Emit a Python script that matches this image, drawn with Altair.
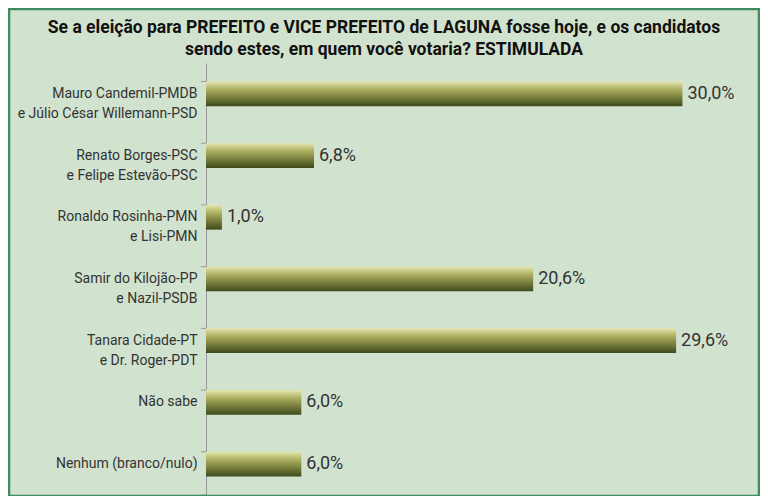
import altair as alt
import pandas as pd

categories = [
    "Mauro Candemil-PMDB|e Júlio César Willemann-PSD",
    "Renato Borges-PSC|e Felipe Estevão-PSC",
    "Ronaldo Rosinha-PMN|e Lisi-PMN",
    "Samir do Kilojão-PP|e Nazil-PSDB",
    "Tanara Cidade-PT|e Dr. Roger-PDT",
    "Não sabe",
    "Nenhum (branco/nulo)",
]
values = [30.0, 6.8, 1.0, 20.6, 29.6, 6.0, 6.0]
value_labels = [f"{v:.1f}".replace(".", ",") + "%" for v in values]

title_lines = [
    "Se a eleição para PREFEITO e VICE PREFEITO de LAGUNA fosse hoje, e os candidatos",
    "sendo estes, em quem você votaria? ESTIMULADA",
]

df = pd.DataFrame({"cat": categories, "v": values, "lbl": value_labels})

FONT = "Roboto, Liberation Sans, sans-serif"
W, H = 540, 432

y_enc = alt.Y(
    "cat:N",
    sort=categories,
    scale=alt.Scale(paddingInner=0.6, paddingOuter=0.3),
    axis=alt.Axis(
        title=None,
        ticks=False,
        labelExpr="split(datum.label, '|')",
        labelFont=FONT,
        labelFontSize=14,
        labelColor="#333333",
        labelLineHeight=20,
        labelPadding=9,
        labelBaseline="middle",
        domainColor="#9a9a9a",
        domainWidth=1,
        labelLimit=300,
    ),
)

x_enc = alt.X("v:Q", scale=alt.Scale(domain=[0, 34]), axis=None)

grad = alt.Gradient(
    gradient="linear",
    stops=[
        alt.GradientStop(color="#e4e6b0", offset=0),
        alt.GradientStop(color="#b0b264", offset=0.3),
        alt.GradientStop(color="#6f7636", offset=0.7),
        alt.GradientStop(color="#3e4a1b", offset=1),
    ],
    x1=0, x2=0, y1=0, y2=1,
)

base = alt.Chart(df)

bars = base.mark_bar(fill=grad).encode(x=x_enc, y=y_enc)

texts = base.mark_text(
    align="left", baseline="middle", dx=5, font=FONT, fontSize=18, color="#333333"
).encode(x=x_enc, y=y_enc, text="lbl:N")

ticks = base.mark_rule(color="#9a9a9a", strokeWidth=1).encode(
    y=alt.Y("cat:N", sort=categories, bandPosition=0),
    x=alt.value(-5),
    x2=alt.value(0),
)

one = pd.DataFrame({"k": [0]})

bottom_tick = alt.Chart(one).mark_rule(color="#9a9a9a", strokeWidth=1).encode(
    x=alt.value(-5), x2=alt.value(0), y=alt.value(H)
)

border = alt.Chart(one).mark_rect(
    fill=None, stroke="#3f8c5e", strokeWidth=2.5
).encode(
    x=alt.value(-197), x2=alt.value(553), y=alt.value(-54), y2=alt.value(H + 1)
)

title1 = alt.Chart(one).mark_text(
    text=title_lines[0], font=FONT, fontSize=17.5, fontWeight="bold",
    color="#111111", align="center", baseline="alphabetic",
).encode(x=alt.value(178), y=alt.value(-30))

title2 = alt.Chart(one).mark_text(
    text=title_lines[1], font=FONT, fontSize=17.5, fontWeight="bold",
    color="#111111", align="center", baseline="alphabetic",
).encode(x=alt.value(178), y=alt.value(-8))

chart = (
    alt.layer(bars, texts, ticks, bottom_tick, border, title1, title2)
    .properties(
        width=W,
        height=H,
        autosize=alt.AutoSizeParams(type="none"),
        padding={"left": 198, "top": 55, "right": 14, "bottom": 1},
        background="#d1e2cf",
    )
    .configure_view(stroke=None)
)

chart.save("out.html", embed_options={"renderer": "svg", "actions": False})
